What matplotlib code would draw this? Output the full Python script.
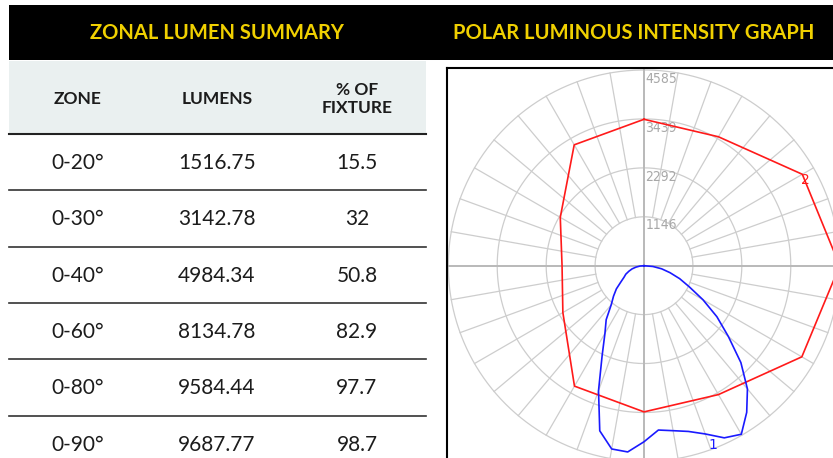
import numpy as np
import matplotlib.pyplot as plt
from matplotlib.patches import Rectangle

# table data
zones = ['0-20°', '0-30°', '0-40°', '0-60°', '0-80°', '0-90°']
lumens = [1516.75, 3142.78, 4984.34, 8134.78, 9584.44, 9687.77]
pct_fixture = [15.5, 32, 50.8, 82.9, 97.7, 98.7]
col_headers = ['ZONE', 'LUMENS', '% OF\nFIXTURE']

# polar graph data (angle from nadir in degrees, candela)
ring_values = [1146, 2292, 3439, 4585]
red_angles = [-180, -150, -120, -90, -60, -30, 0, 30, 60, 90, 120, 150, 180]
red_cd = [3430, 3270, 2265, 1920, 2195, 3258, 3425, 3487, 4270, 4585, 4283, 3488, 3430]
blue_angles = list(range(-90, 95, 5))
blue_cd = [0, 95, 190, 290, 375, 470, 540, 660, 845, 1010, 1195, 1545, 1830,
           2320, 3115, 4005, 4360, 4380, 4125, 3865, 3925, 4020, 4195, 4450,
           4560, 4195, 3770, 3210, 2580, 2085, 1595, 1170, 890, 630, 420, 210, 0]

YELLOW = '#F0D000'
TXT = '#1c1c1c'
GRID = '#cdcdcd'
AXIS = '#b9b9b9'
TITLE_FONT = ['Lato', 'DejaVu Sans']
NARROW = ['Liberation Sans Narrow', 'DejaVu Sans']


def to_xy(ang, r):
    t = np.radians(np.asarray(ang, dtype=float))
    r = np.asarray(r, dtype=float)
    return r * np.sin(t), -r * np.cos(t)


fig = plt.figure(figsize=(8.33, 4.58), dpi=100)

# background axes in pixel units
bg = fig.add_axes([0, 0, 1, 1])
bg.set_xlim(0, 833)
bg.set_ylim(458, 0)
bg.axis('off')

bg.add_patch(Rectangle((9, 5), 824, 55, facecolor='black', edgecolor='none'))
bg.text(217, 33, 'ZONAL LUMEN SUMMARY', color=YELLOW, fontsize=14.5, fontweight='bold',
        family=TITLE_FONT, ha='center', va='center')
bg.text(634, 33, 'POLAR LUMINOUS INTENSITY GRAPH', color=YELLOW, fontsize=14.5,
        fontweight='bold', family=TITLE_FONT, ha='center', va='center')

# table
bg.add_patch(Rectangle((9, 61), 417, 73, facecolor='#EAF0F0', edgecolor='none'))
col_x = [78, 217, 357]
for x, h in zip(col_x, col_headers):
    bg.text(x, 99, h, color=TXT, fontsize=12.5, fontweight='bold', family=TITLE_FONT,
            ha='center', va='center', linespacing=1.15)

row_h = 56.3
y0 = 134
bg.plot([9, 426], [y0, y0], color='#222222', lw=1.5)
for i, (z, lm, p) in enumerate(zip(zones, lumens, pct_fixture)):
    yc = y0 + row_h * i + row_h / 2 + 1
    bg.text(col_x[0], yc, z, color=TXT, fontsize=15, family=TITLE_FONT, ha='center', va='center')
    bg.text(col_x[1], yc, f'{lm:.2f}', color=TXT, fontsize=15, family=TITLE_FONT,
            ha='center', va='center')
    bg.text(col_x[2], yc, f'{p:g}', color=TXT, fontsize=15, family=TITLE_FONT,
            ha='center', va='center')
    if i < len(zones) - 1:
        yl = y0 + row_h * (i + 1)
        bg.plot([9, 426], [yl, yl], color='#333333', lw=1.2)

# polar graph drawn on a cartesian axes in candela units
cx, cy = 644, 265.7
scale = 4585 / 195.7
L, T, R, B = 447, 68, 842, 472
pax = fig.add_axes([L / 833, (458 - B) / 458, (R - L) / 833, (B - T) / 458])
pax.set_xlim((L - cx) * scale, (R - cx) * scale)
pax.set_ylim(-(B - cy) * scale, (cy - T) * scale)
pax.set_xticks([])
pax.set_yticks([])
for s in pax.spines.values():
    s.set_color('black')
    s.set_linewidth(1.5)

theta = np.linspace(0, 2 * np.pi, 361)
for rv in ring_values:
    pax.plot(rv * np.cos(theta), rv * np.sin(theta), color=GRID, lw=0.9, zorder=1)
for a in range(0, 360, 10):
    if a % 90 == 0:
        continue
    xs, ys = to_xy([a, a], [ring_values[0], ring_values[-1]])
    pax.plot(xs, ys, color=GRID, lw=0.9, zorder=1)
pax.plot([(L - cx) * scale, (R - cx) * scale], [0, 0], color=AXIS, lw=1.4, zorder=1)
pax.plot([0, 0], [-ring_values[-1], ring_values[-1]], color=AXIS, lw=1.4, zorder=1)

for rv in ring_values:
    pax.text(30, rv - 40, str(rv), color='#a8a8a8', fontsize=10, family=NARROW,
             fontstretch='condensed', ha='left', va='top', zorder=2)

rx, ry = to_xy(red_angles, red_cd)
pax.plot(rx, ry, color='#ff1a1a', lw=1.2, zorder=3)
bx, by = to_xy(blue_angles, blue_cd)
pax.plot(bx, by, color='#1a1aff', lw=1.2, zorder=3)

lx, ly = to_xy(118, 4290)
pax.text(lx, ly, '2', color='#ff1a1a', fontsize=10, family=NARROW, ha='center',
         va='center', zorder=4)
lx, ly = to_xy(21, 4500)
pax.text(lx, ly, '1', color='#1a1aff', fontsize=10, family=NARROW, ha='center',
         va='center', zorder=4)

fig.savefig('out.png', dpi=100)
